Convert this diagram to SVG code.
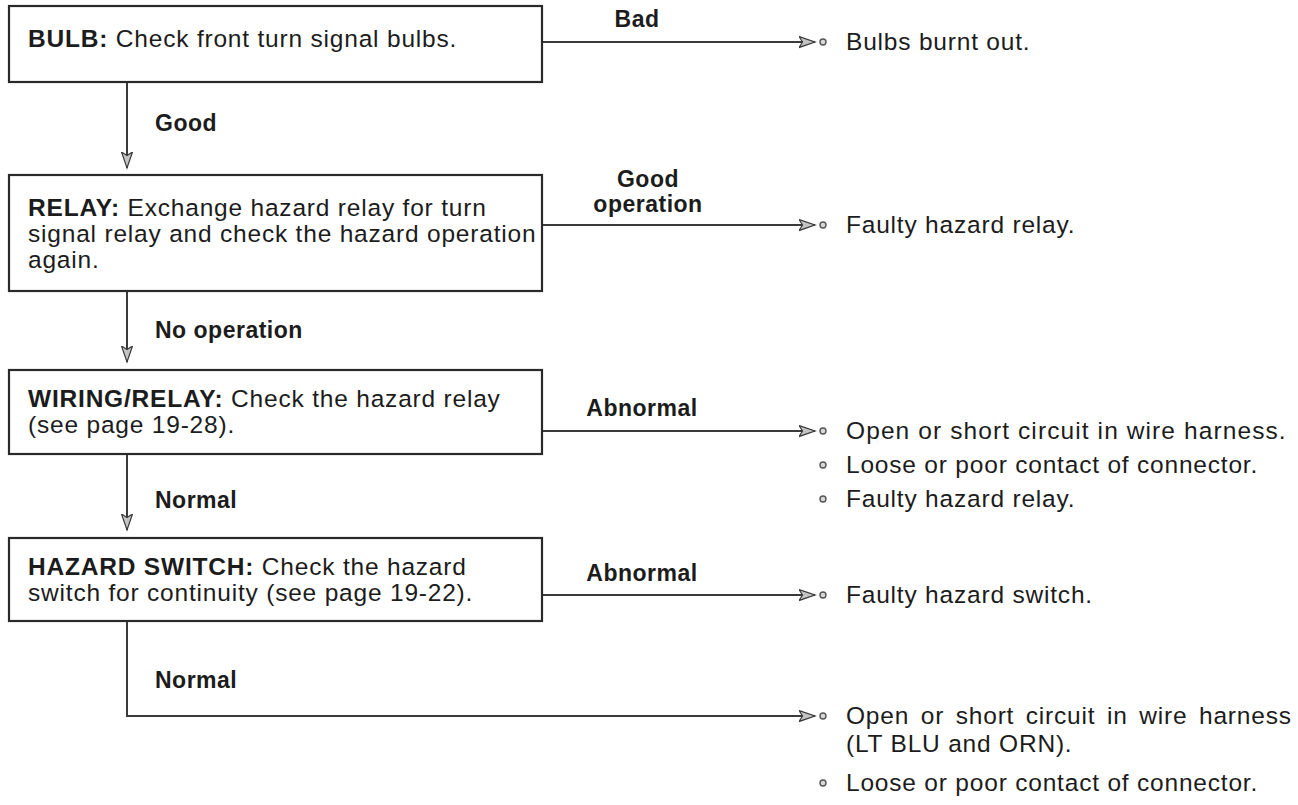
<svg xmlns="http://www.w3.org/2000/svg" width="1298" height="805" viewBox="0 0 1298 805">
<defs>
<style>
.box{fill:#fff;stroke:#2a2a2a;stroke-width:2.2}
.t{font-family:"Liberation Sans",Arial,sans-serif;font-size:24.5px;fill:#1c1c1c;letter-spacing:0.8px}
.b{font-weight:bold}
.lbl{font-family:"Liberation Sans",Arial,sans-serif;font-size:23px;font-weight:bold;fill:#1c1c1c;letter-spacing:0.5px}
.c{fill:none;stroke:#3a3a3a;stroke-width:2}
.dot{fill:#d8d8d8;stroke:#555;stroke-width:1.4}
</style>
<marker id="ah" markerUnits="userSpaceOnUse" markerWidth="18" markerHeight="14" refX="16" refY="6" orient="auto">
<path d="M0,0.5 L16,6 L0,11.5 L3.5,6 Z" fill="#c4c4c4" stroke="#3a3a3a" stroke-width="1.2"/>
</marker>
</defs>
<rect width="1298" height="805" fill="#fff"/>

<g id="connectors">
<path class="c" d="M127,82 V168" marker-end="url(#ah)"/>
<path class="c" d="M127,291 V362" marker-end="url(#ah)"/>
<path class="c" d="M127,454 V530" marker-end="url(#ah)"/>
<path class="c" d="M127,621 V716 H815" marker-end="url(#ah)"/>
<path class="c" d="M542,42 H815" marker-end="url(#ah)"/>
<path class="c" d="M542,225 H815" marker-end="url(#ah)"/>
<path class="c" d="M542,431 H815" marker-end="url(#ah)"/>
<path class="c" d="M542,595 H815" marker-end="url(#ah)"/>
<text class="lbl" x="637" y="27" text-anchor="middle">Bad</text>
<text class="lbl" x="648" y="187" text-anchor="middle">Good</text>
<text class="lbl" x="648" y="212" text-anchor="middle">operation</text>
<text class="lbl" x="642" y="416" text-anchor="middle">Abnormal</text>
<text class="lbl" x="642" y="581" text-anchor="middle">Abnormal</text>
<text class="lbl" x="155" y="131">Good</text>
<text class="lbl" x="155" y="338">No operation</text>
<text class="lbl" x="155" y="508">Normal</text>
<text class="lbl" x="155" y="688">Normal</text>
</g>

<g id="bulb">
<rect class="box" x="9" y="6" width="533" height="76"/>
<text class="t" x="28" y="47"><tspan class="b">BULB:</tspan> Check front turn signal bulbs.</text>
</g>

<g id="relay">
<rect class="box" x="9" y="175" width="533" height="116"/>
<text class="t" x="28" y="216"><tspan class="b">RELAY:</tspan> Exchange hazard relay for turn</text>
<text class="t" x="28" y="242">signal relay and check the hazard operation</text>
<text class="t" x="28" y="268">again.</text>
</g>

<g id="wiring-relay">
<rect class="box" x="9" y="370" width="533" height="84"/>
<text class="t" x="28" y="407"><tspan class="b">WIRING/RELAY:</tspan> Check the hazard relay</text>
<text class="t" x="28" y="433">(see page 19-28).</text>
</g>

<g id="hazard-switch">
<rect class="box" x="9" y="538" width="533" height="83"/>
<text class="t" x="28" y="575"><tspan class="b">HAZARD SWITCH:</tspan> Check the hazard</text>
<text class="t" x="28" y="601">switch for continuity (see page 19-22).</text>
</g>

<g id="result-bulbs">
<circle class="dot" cx="823" cy="42" r="3"/>
<text class="t" x="846" y="50">Bulbs burnt out.</text>
</g>

<g id="result-relay">
<circle class="dot" cx="823" cy="225" r="3"/>
<text class="t" x="846" y="233">Faulty hazard relay.</text>
</g>

<g id="result-wiring">
<circle class="dot" cx="823" cy="431" r="3"/>
<text class="t" x="846" y="439" style="letter-spacing:1.1px">Open or short circuit in wire harness.</text>
<circle class="dot" cx="823" cy="465" r="3"/>
<text class="t" x="846" y="473">Loose or poor contact of connector.</text>
<circle class="dot" cx="823" cy="499" r="3"/>
<text class="t" x="846" y="507">Faulty hazard relay.</text>
</g>

<g id="result-switch">
<circle class="dot" cx="823" cy="595" r="3"/>
<text class="t" x="846" y="603">Faulty hazard switch.</text>
</g>

<g id="result-harness">
<circle class="dot" cx="823" cy="716" r="3"/>
<text class="t" x="846" y="724" style="word-spacing:4px">Open or short circuit in wire harness</text>
<text class="t" x="846" y="752">(LT BLU and ORN).</text>
<circle class="dot" cx="823" cy="783" r="3"/>
<text class="t" x="846" y="791">Loose or poor contact of connector.</text>
</g>
</svg>
